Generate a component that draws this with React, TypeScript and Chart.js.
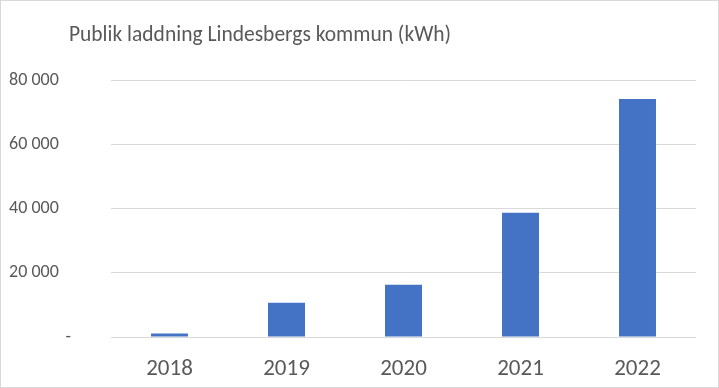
import React, { useEffect, useRef } from "react";
import { Chart, registerables } from "chart.js";

Chart.register(...registerables);

const titleText = "Publik laddning Lindesbergs kommun (kWh)";
const categories = ["2018", "2019", "2020", "2021", "2022"];
const values = [1100, 10700, 16300, 38700, 74100];
const yTicks = [0, 20000, 40000, 60000, 80000];

const FONT = "Carlito, Lato, 'Open Sans', sans-serif";
const TEXT = "#595959";

const fmt = (v: number) =>
  v === 0 ? "-" : String(v).replace(/\B(?=(\d{3})+(?!\d))/g, " ") + "   ";

export default function App() {
  const ref = useRef<HTMLCanvasElement | null>(null);
  useEffect(() => {
    document.body.style.margin = "0";
    const ctx = ref.current!.getContext("2d")!;
    const deco = {
      id: "deco",
      afterDraw(chart: any) {
        const c = chart.ctx;
        c.save();
        c.strokeStyle = "#d9d9d9";
        c.lineWidth = 1;
        c.strokeRect(0.5, 0.5, chart.width - 1, chart.height - 1);
        c.fillStyle = TEXT;
        c.font = `21.5px ${FONT}`;
        c.textAlign = "center";
        c.textBaseline = "middle";
        c.fillText(titleText, 260, 36);
        c.restore();
      },
    };
    const chart = new Chart(ctx, {
      type: "bar",
      data: {
        labels: categories,
        datasets: [
          {
            data: values,
            backgroundColor: "#4472C4",
            categoryPercentage: 1,
            barPercentage: 0.316,
          },
        ],
      },
      options: {
        animation: false,
        responsive: false,
        layout: { padding: { top: 80, right: 23, bottom: 0, left: 0 } },
        plugins: { legend: { display: false }, tooltip: { enabled: false }, title: { display: false } },
        scales: {
          x: {
            grid: { display: false, drawTicks: false },
            border: { display: false },
            ticks: { color: TEXT, font: { family: FONT, size: 23 }, padding: 18 },
            afterFit: (s: any) => {
              s.height = 51;
            },
          },
          y: {
            min: 0,
            max: 80000,
            afterBuildTicks: (s: any) => {
              s.ticks = yTicks.map((v) => ({ value: v }));
            },
            grid: { color: "#d9d9d9", drawTicks: false, lineWidth: 1 },
            border: { display: false },
            ticks: {
              color: TEXT,
              font: { family: FONT, size: 18 },
              padding: 40,
              callback: (v: any) => fmt(Number(v)),
            },
            afterFit: (s: any) => {
              s.width = 111;
            },
          },
        },
      },
      plugins: [deco],
    });
    return () => chart.destroy();
  }, []);
  return (
    <div style={{ position: "absolute", left: 0, top: 0, width: 719, height: 388, background: "#fff" }}>
      <canvas ref={ref} width={719} height={388} style={{ display: "block", width: 719, height: 388 }} />
    </div>
  );
}
